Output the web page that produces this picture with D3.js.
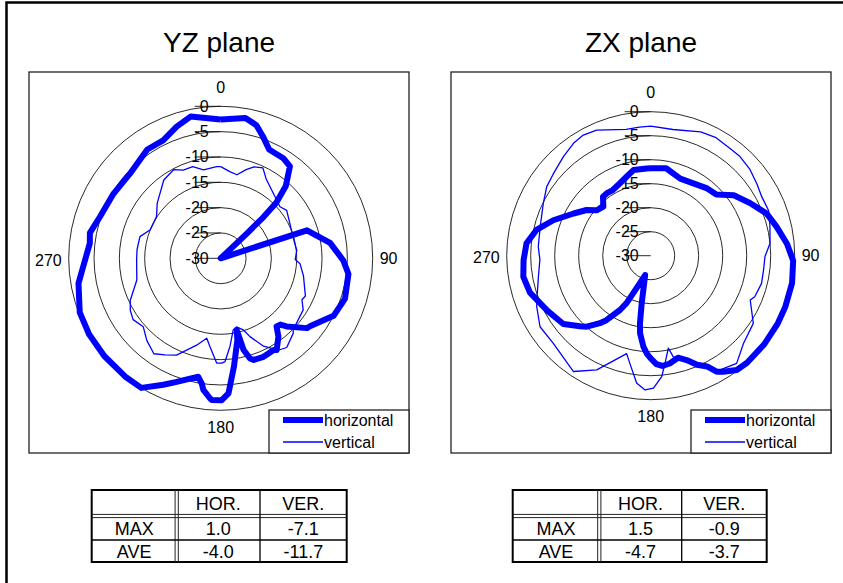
<html>
<head>
<script src="https://d3js.org/d3.v7.min.js"></script>
<style>
  body { margin: 0; background: #fff; }
  text { font-family: "Liberation Sans", Arial, sans-serif; fill: #000; }
</style>
</head>
<body>
<svg id="chart" width="843" height="583"></svg>
<script>
// radiation pattern data: [angle in degrees, level in dB]
const yzHorizontal = [[0,-2.6],[10,-1.9],[15,-2.8],[19,-4.5],[24,-6.5],[32,-6.7],[37,-7.3],[42,-10.8],[45,-14.5],[46,-18.2],[46.5,-22.9],[47,-30],[70,-30],[72,-12.1],[82,-8.2],[91,-5.8],[97,-4.6],[108,-4.2],[117,-5.0],[127,-7.8],[129,-8.1],[136,-11.3],[138,-12.4],[140.7,-12.6],[143.6,-10.8],[148.6,-8.8],[150,-9.1],[156.5,-8.8],[162,-8.9],[163.7,-9.4],[166,-11.4],[167.4,-15.5],[168.5,-13.5],[173,-8.5],[176.7,-3.3],[179.6,-2.0],[183.6,-2.0],[184.4,-2.3],[187.5,-3.8],[188.6,-5.0],[190.7,-6.2],[194.3,-5.5],[199.6,-4.1],[204.4,-2.6],[211.5,0.5],[219,0.7],[230,1.0],[240,0.7],[249,-0.2],[260,-1.5],[266.5,-2.8],[276.5,-4.0],[281,-3.7],[289,-4.8],[301,-5.3],[313,-5.5],[326,-4.1],[334,-4.1],[341.5,-2.6],[348,-1.4],[360,-2.6]];
const yzVertical = [[0,-11.9],[6,-12.8],[11,-13.2],[16,-11.8],[20,-10.8],[25,-10.3],[30,-12.0],[39,-13.5],[49,-14.5],[54,-13.9],[63,-14.7],[79,-15.1],[84,-14.9],[91,-15.3],[94,-14.3],[102,-13.3],[114,-11.7],[117,-12.0],[122,-10.8],[128,-10.5],[134.6,-9.9],[136,-9.4],[143.5,-8.1],[148,-8.6],[150.5,-9.6],[154,-10.7],[159.5,-13.5],[162.5,-15.2],[167,-16.1],[170,-15.7],[174,-12.5],[177.6,-9.6],[179.5,-9.3],[182.2,-9.3],[186.9,-12.4],[189.9,-14.0],[195.5,-12.2],[204.5,-9.0],[210,-8.0],[215,-7.0],[222,-8.2],[228.5,-9.6],[235,-8.9],[240,-9.4],[245,-10.3],[255.5,-12.9],[269,-13.4],[276,-13.4],[285,-13.5],[292,-15.0],[303,-14.9],[311,-13.4],[324,-10.9],[332,-10.2],[337,-11.1],[343,-11.1],[349,-12.2],[357.5,-11.9],[360,-11.9]];
const zxHorizontal = [[0,-11.8],[10,-11.5],[21,-12.8],[30.5,-12.5],[40,-11.7],[47,-11.3],[54,-8.6],[62,-6.6],[70,-4.3],[77,-3.1],[85,-1.5],[92,-0.3],[101,0.6],[111,1.2],[118,1.5],[128,1.0],[138,0.1],[143,-0.2],[148,-1.5],[150.4,-2.2],[153,-4.1],[157,-5.3],[161,-7.0],[165,-8.0],[170,-7.2],[174,-6.9],[177,-7.4],[180,-8.6],[182.3,-9.6],[184.6,-11.0],[187.8,-13.7],[189,-15.7],[190.7,-19.9],[196,-25.8],[205,-21.4],[207,-18.9],[209.5,-17.0],[214.5,-13.7],[217,-12.4],[222,-10.1],[225,-9.2],[232,-6.9],[242,-5.6],[253,-3.7],[260.6,-3.1],[268,-3.5],[275.7,-4.0],[282.7,-5.6],[290,-8.4],[298.7,-11.7],[305.5,-13.6],[310,-15.3],[316,-15.8],[321,-14.2],[325,-14.1],[330,-14.2],[337,-13.6],[343,-12.8],[348.6,-11.8],[357.4,-11.8],[360,-11.8]];
const zxVertical = [[0,-3.0],[10,-3.3],[22,-2.2],[29,-1.9],[36.5,-2.2],[42,-2.2],[49,-2.6],[56,-3.3],[62,-3.8],[69,-3.7],[76,-4.4],[84,-5.0],[90.5,-6.2],[97,-6.3],[104,-6.2],[111.5,-6.7],[114,-7.3],[123.4,-4.4],[133.4,-3.4],[141.4,-1.3],[150.4,-2.3],[162.6,-7.2],[167.4,-8.4],[169.2,-10.4],[172.4,-7.4],[174.8,-4.7],[178.8,-2.4],[182.4,-2.0],[186.3,-3.3],[190.9,-7.1],[193.8,-9.0],[205.3,-3.7],[213.7,-1.0],[228,-2.7],[237.3,-2.6],[246,-4.0],[250,-4.8],[259.4,-6.2],[268,-6.9],[274.6,-6.5],[284.7,-6.2],[296,-5.1],[303.6,-4.0],[310,-3.5],[318.6,-2.5],[325.5,-1.6],[330.8,-1.2],[336.7,-1.5],[349,-3.2],[355,-3.1],[360,-3.0]];

const ringValues = [-30, -25, -20, -15, -10, -5, 0];
const angleLabels = [0, 90, 180, 270];
const seriesNames = ["horizontal", "vertical"];
const tableHeader = ["", "HOR.", "VER."];
const yzStats = [["MAX", "1.0", "-7.1"], ["AVE", "-4.0", "-11.7"]];
const zxStats = [["MAX", "1.5", "-0.9"], ["AVE", "-4.7", "-3.7"]];

// layout of the two panels
const panels = [
  {title: "YZ plane", tx: 219, box: [29, 72, 380, 381], cx: 220.7, cy: 258.3, R: 152,
   series: [yzHorizontal, yzVertical], legend: [269, 410],
   stats: yzStats, cols: [91.7, 176.7, 260, 346.7]},
  {title: "ZX plane", tx: 641, box: [451, 72, 380, 381], cx: 650.7, cy: 255.7, R: 144,
   series: [zxHorizontal, zxVertical], legend: [691, 410],
   stats: zxStats, cols: [512.7, 599.3, 681.7, 766.7]}
];
const rows = [490, 516, 540, 562];
const widths = [6, 1.3];
const blue = "#0000ff";

let svg = d3.select("svg#chart");

// page frame (left and top edges only)
svg.append("path")
  .attr("d", "M6.5,583 V2.5 H843")
  .attr("fill", "none").attr("stroke", "#000").attr("stroke-width", 2.5);

panels.forEach((p) => {
  svg.append("text")
    .attr("x", p.tx).attr("y", 52)
    .attr("text-anchor", "middle")
    .style("font-size", "28px")
    .text(p.title);

  svg.append("rect")
    .attr("x", p.box[0]).attr("y", p.box[1])
    .attr("width", p.box[2]).attr("height", p.box[3])
    .attr("fill", "white").attr("stroke", "#222").attr("stroke-width", 1.3);

  let rScale = d3.scaleLinear().domain([-30, 0]).range([0, p.R]).clamp(true);
  let aScale = d3.scaleLinear().domain([0, 360]).range([0, 2 * Math.PI]);

  let g = svg.append("g").attr("transform", "translate(" + p.cx + "," + p.cy + ")");

  // rings
  ringValues.filter(v => v > -30).forEach((v) => {
    g.append("circle")
      .attr("r", rScale(v))
      .attr("fill", "none").attr("stroke", "#111").attr("stroke-width", 0.9);
  });

  // value ticks and labels up the 0 degree spoke
  ringValues.forEach((v) => {
    g.append("line")
      .attr("x1", -26).attr("x2", 0)
      .attr("y1", -rScale(v)).attr("y2", -rScale(v))
      .attr("stroke", "#111").attr("stroke-width", 0.9);
    g.append("text")
      .attr("x", -12).attr("y", -rScale(v))
      .attr("text-anchor", "end").attr("dominant-baseline", "central")
      .style("font-size", "16px")
      .text(v);
  });

  // angle labels
  angleLabels.forEach((a) => {
    let t = g.append("text").style("font-size", "16px")
      .attr("dominant-baseline", "central").text(a);
    if (a === 0) t.attr("x", 0).attr("y", -p.R - 19).attr("text-anchor", "middle");
    if (a === 180) t.attr("x", 0).attr("y", p.R + 17).attr("text-anchor", "middle");
    if (a === 90) t.attr("x", p.R + 7).attr("y", 0).attr("text-anchor", "start");
    if (a === 270) t.attr("x", -p.R - 7).attr("y", 2).attr("text-anchor", "end");
  });

  let line = d3.lineRadial()
    .angle(d => aScale(d[0]))
    .radius(d => rScale(d[1]));

  // thin first so the thick trace stays on top
  [1, 0].forEach((i) => {
    g.append("path")
      .attr("d", line(p.series[i]))
      .attr("fill", "none")
      .attr("stroke", blue)
      .attr("stroke-width", widths[i])
      .attr("stroke-linejoin", "round");
  });

  // legend
  let lx = p.legend[0], ly = p.legend[1];
  svg.append("rect")
    .attr("x", lx).attr("y", ly)
    .attr("width", p.box[0] + p.box[2] - lx).attr("height", p.box[1] + p.box[3] - ly)
    .attr("fill", "white").attr("stroke", "#222").attr("stroke-width", 1.3);
  seriesNames.forEach((name, i) => {
    let y = ly + 10 + i * 22;
    svg.append("line")
      .attr("x1", lx + 14).attr("x2", lx + 54)
      .attr("y1", y).attr("y2", y)
      .attr("stroke", blue).attr("stroke-width", widths[i]);
    svg.append("text")
      .attr("x", lx + 55).attr("y", y)
      .attr("dominant-baseline", "central")
      .style("font-size", "16px")
      .text(name);
  });

  // summary table
  let c = p.cols;
  let tg = svg.append("g");
  tg.append("rect")
    .attr("x", c[0]).attr("y", rows[0])
    .attr("width", c[3] - c[0]).attr("height", rows[3] - rows[0])
    .attr("fill", "none").attr("stroke", "#000").attr("stroke-width", 2);
  // double lines after header and first column
  [-1.6, 1.6].forEach((o) => {
    tg.append("line").attr("x1", c[0]).attr("x2", c[3])
      .attr("y1", rows[1] + o).attr("y2", rows[1] + o)
      .attr("stroke", "#222").attr("stroke-width", 1);
    tg.append("line").attr("x1", c[1] + o).attr("x2", c[1] + o)
      .attr("y1", rows[0]).attr("y2", rows[3])
      .attr("stroke", "#222").attr("stroke-width", 1);
  });
  tg.append("line").attr("x1", c[0]).attr("x2", c[3])
    .attr("y1", rows[2]).attr("y2", rows[2])
    .attr("stroke", "#000").attr("stroke-width", 1.3);
  tg.append("line").attr("x1", c[2]).attr("x2", c[2])
    .attr("y1", rows[0]).attr("y2", rows[3])
    .attr("stroke", "#000").attr("stroke-width", 1.3);

  [tableHeader].concat(p.stats).forEach((row, ri) => {
    row.forEach((cell, ci) => {
      tg.append("text")
        .attr("x", (c[ci] + c[ci + 1]) / 2)
        .attr("y", (rows[ri] + rows[ri + 1]) / 2 + 1)
        .attr("text-anchor", "middle").attr("dominant-baseline", "central")
        .style("font-size", "18px")
        .text(cell);
    });
  });
});
</script>
</body>
</html>
